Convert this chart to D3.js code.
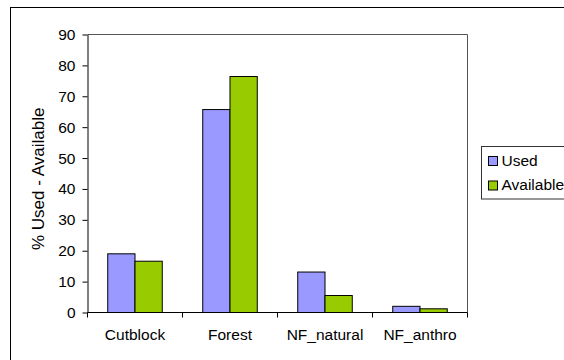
<!DOCTYPE html>
<html>
<head>
<meta charset="utf-8">
<script src="https://cdn.jsdelivr.net/npm/d3@7"></script>
<style>
    body { margin: 0; background: #fff; }
    svg { display: block; font-family: "Liberation Sans", Arial, sans-serif; }
    .axis text { font-size: 15.5px; fill: #000; }
    .axis path, .axis line { stroke: #000; }
</style>
</head>
<body>
<div class="svg-container"></div>
<script>
//Data
const categories = ['Cutblock', 'Forest', 'NF_natural', 'NF_anthro'];
const seriesNames = ['Used', 'Available'];
const usedValues = [19.0, 65.7, 13.1, 2.0];
const availableValues = [16.6, 76.4, 5.5, 1.2];
const yTicks = [0, 10, 20, 30, 40, 50, 60, 70, 80, 90];

const colors = ['#9999ff', '#99cc00'];

//build rows for the grouped bars
const rows = categories.map((c, i) => ({
    category: c,
    values: [usedValues[i], availableValues[i]]
}));

function ready(){
    const W = 564, H = 360;
    //plot area (inside the chart frame)
    const margin = {top: 34.5, left: 87.5};
    const width = 380;
    const height = 278;

    const svg = d3.select('.svg-container')
        .append('svg')
        .attr('width', W)
        .attr('height', H);

    //outer chart border, runs off the right and bottom edge
    svg.append('rect')
        .attr('x', 10.5).attr('y', 7.5)
        .attr('width', W).attr('height', H)
        .attr('fill', 'none')
        .attr('stroke', '#000');

    const g = svg.append('g')
        .attr('transform', `translate(${margin.left}, ${margin.top})`);

    const xScale = d3.scaleBand()
        .domain(categories)
        .range([0, width]);

    const x1 = d3.scaleBand()
        .domain(seriesNames)
        .range([xScale.bandwidth() * 0.213, xScale.bandwidth() * 0.787]);

    const yScale = d3.scaleLinear()
        .domain([0, 90])
        .range([height, 0]);

    //plot frame top and right
    g.append('path')
        .attr('d', `M0,0H${width}V${height}`)
        .attr('fill', 'none')
        .attr('stroke', '#555');

    //Draw bars
    const groups = g.selectAll('.grp')
        .data(rows)
        .enter()
        .append('g')
        .attr('class', 'grp')
        .attr('transform', d => `translate(${xScale(d.category)}, 0)`);

    groups.selectAll('rect')
        .data(d => d.values.map((v, i) => ({name: seriesNames[i], value: v, i: i})))
        .enter()
        .append('rect')
        .attr('x', d => x1(d.name))
        .attr('y', d => yScale(d.value))
        .attr('width', x1.bandwidth())
        .attr('height', d => height - yScale(d.value))
        .attr('fill', d => colors[d.i])
        .attr('stroke', '#000')
        .attr('stroke-width', 1);

    //Draw axes
    const yAxis = d3.axisLeft(yScale)
        .tickValues(yTicks)
        .tickSize(5)
        .tickPadding(7)
        .tickSizeOuter(0);

    g.append('g')
        .attr('class', 'y axis')
        .call(yAxis);

    //x axis: ticks on category boundaries
    const xAxisG = g.append('g')
        .attr('class', 'x axis')
        .attr('transform', `translate(0, ${height})`);

    xAxisG.append('line')
        .attr('x1', 0).attr('x2', width)
        .attr('stroke', '#000');

    xAxisG.selectAll('.tk')
        .data(categories.concat(['end']))
        .enter()
        .append('line')
        .attr('class', 'tk')
        .attr('x1', (d, i) => i * xScale.bandwidth())
        .attr('x2', (d, i) => i * xScale.bandwidth())
        .attr('y1', 0).attr('y2', 5)
        .attr('stroke', '#000');

    xAxisG.selectAll('.lbl')
        .data(categories)
        .enter()
        .append('text')
        .attr('class', 'lbl')
        .attr('x', d => xScale(d) + xScale.bandwidth() / 2)
        .attr('y', 27)
        .attr('text-anchor', 'middle')
        .text(d => d);

    //Y title, clipped at the top like the original
    svg.append('clipPath')
        .attr('id', 'titleclip')
        .append('rect')
        .attr('x', 0).attr('y', 96)
        .attr('width', 80).attr('height', 200);

    svg.append('g')
        .attr('clip-path', 'url(#titleclip)')
        .append('text')
        .attr('transform', 'translate(44, 250) rotate(-90)')
        .attr('text-anchor', 'start')
        .style('font-size', '17px')
        .text('% Used - Available');

    //Legend
    const legend = svg.append('g')
        .attr('class', 'legend');

    legend.append('rect')
        .attr('x', 481.5).attr('y', 146.5)
        .attr('width', 100).attr('height', 52.5)
        .attr('fill', '#fff')
        .attr('stroke', '#333');

    const items = legend.selectAll('.item')
        .data(seriesNames)
        .enter()
        .append('g')
        .attr('class', 'item')
        .attr('transform', (d, i) => `translate(488.5, ${156.5 + i * 24.5})`);

    items.append('rect')
        .attr('width', 9).attr('height', 9)
        .attr('fill', (d, i) => colors[i])
        .attr('stroke', '#000');

    items.append('text')
        .attr('x', 13)
        .attr('y', 9)
        .style('font-size', '15.5px')
        .text(d => d);
}

ready();
</script>
</body>
</html>
